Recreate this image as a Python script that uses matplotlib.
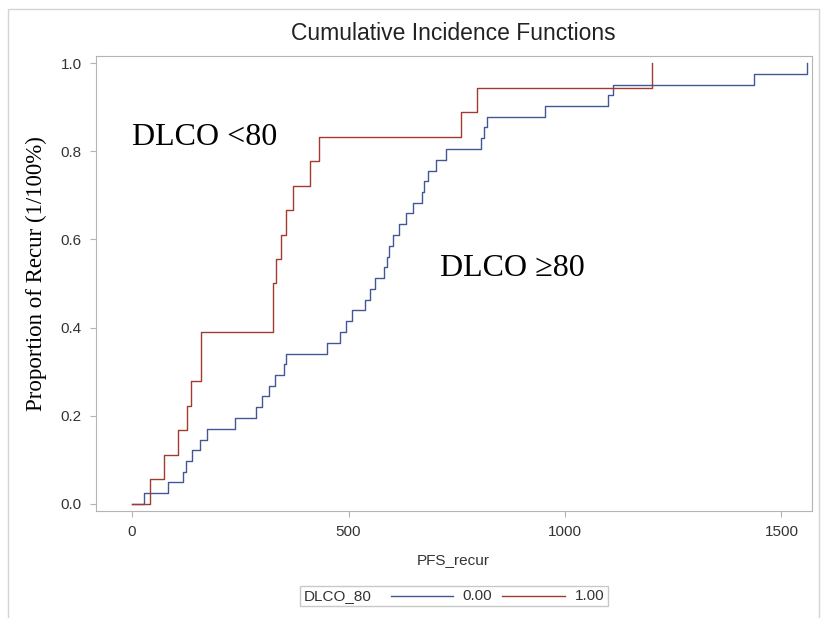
import matplotlib.pyplot as plt
from matplotlib.lines import Line2D
from matplotlib.patches import Rectangle
from matplotlib.offsetbox import AnchoredOffsetbox, HPacker, TextArea, DrawingArea

# step times (PFS_recur) and cumulative incidence
times_0 = [0, 27, 84, 117, 125, 138, 157, 174, 238, 286,
           299, 317, 331, 350, 355, 451, 481, 494, 508, 538,
           550, 560, 581, 590, 594, 603, 616, 633, 650, 670,
           675, 684, 703, 724, 805, 813, 821, 954, 1099, 1112,
           1437, 1558]
cif_0 = [0.0, 0.024, 0.049, 0.073, 0.098, 0.122, 0.146, 0.171, 0.195, 0.220,
         0.244, 0.268, 0.293, 0.317, 0.341, 0.366, 0.390, 0.415, 0.439, 0.463,
         0.488, 0.512, 0.537, 0.561, 0.585, 0.610, 0.634, 0.659, 0.683, 0.707,
         0.732, 0.756, 0.780, 0.805, 0.829, 0.854, 0.878, 0.902, 0.927, 0.951,
         0.976, 1.0]

times_1 = [0, 42, 74, 106, 126, 136, 159, 325, 332, 344, 356, 371, 411, 431, 759, 796, 1200]
cif_1 = [0.0, 0.056, 0.111, 0.167, 0.222, 0.278, 0.389, 0.500, 0.556, 0.611,
         0.667, 0.722, 0.778, 0.833, 0.889, 0.944, 1.0]

xticks = [0, 500, 1000, 1500]
yticks = [0.0, 0.2, 0.4, 0.6, 0.8, 1.0]

blue = '#445694'
red = '#A23A2E'
grey = '#b4b4b4'
txt = '#333333'

fig = plt.figure(figsize=(8.21, 6.18), dpi=100)
ax = fig.add_axes([0.1166, 0.1725, 0.8721, 0.7369])

ax.step(times_0, cif_0, where='post', color=blue, lw=1.0)
ax.step(times_1, cif_1, where='post', color=red, lw=1.0)

ax.set_xlim(-84, 1570)
ax.set_ylim(-0.017, 1.016)
ax.set_xticks(xticks)
ax.set_yticks(yticks)
ax.set_yticklabels(['%.1f' % v for v in yticks])
ax.tick_params(direction='out', length=4, color=grey, labelcolor=txt, labelsize=11)
ax.tick_params(axis='y', pad=6)
ax.tick_params(axis='x', pad=6)
for s in ax.spines.values():
    s.set_color(grey)

ax.set_xlabel('PFS_recur', fontsize=11, color=txt, family='Liberation Sans')
ax.xaxis.set_label_coords(0.5, -0.107)
ax.xaxis.label.set_va('center')
ax.set_ylabel('Proportion of Recur (1/100%)', fontsize=16.5, family='Liberation Serif')
ax.yaxis.set_label_coords(-0.083, 0.523)
ax.yaxis.label.set_va('center')
for lab in ax.get_xticklabels() + ax.get_yticklabels():
    lab.set_family('Liberation Sans')

ax.text(0, 0.814, 'DLCO <80', fontsize=23, family='Liberation Serif', va='baseline')
ax.text(711, 0.517, 'DLCO \u226580', fontsize=23, family='Liberation Serif', va='baseline')

fig.text(0.5526, 1 - 33 / 618, 'Cumulative Incidence Functions', ha='center', va='center',
         fontsize=16.5, color='#222222', family='Liberation Sans')

# legend row: group name, then one line sample per group
def sample(color):
    da = DrawingArea(45, 8)
    da.add_artist(Line2D([0, 45], [4, 4], color=color, lw=1.0))
    return da

tprops = dict(fontsize=11, color=txt, family='Liberation Sans')
row = HPacker(children=[TextArea('DLCO_80', textprops=tprops),
                        HPacker(children=[sample(blue), TextArea('0.00', textprops=tprops),
                                          sample(red), TextArea('1.00', textprops=tprops)],
                                sep=7, align='center')],
              sep=14, align='center')
box = AnchoredOffsetbox(loc='center', child=row, pad=0.25, borderpad=0,
                        bbox_to_anchor=(0.5526, 1 - 596 / 618),
                        bbox_transform=fig.transFigure, frameon=True)
box.patch.set_edgecolor('#c8c8c8')
box.patch.set_boxstyle('square', pad=0)
fig.add_artist(box)

# light frame around the whole graph
fig.add_artist(Rectangle((8 / 821, -0.05), (819 - 8) / 821, 1.05 - 9 / 618,
                         transform=fig.transFigure, fill=False, ec='#d4d4d4', lw=1))

fig.savefig('out.png', dpi=100)
